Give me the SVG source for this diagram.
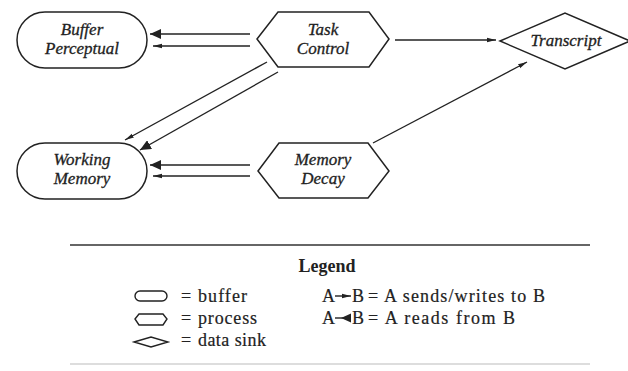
<svg xmlns="http://www.w3.org/2000/svg" width="628" height="371" viewBox="0 0 628 371">
<style>
.shape{fill:#fff;stroke:#222;stroke-width:1.5}
.lbl{font-family:"Liberation Serif",serif;font-style:italic;font-size:17px;fill:#222;stroke:#222;stroke-width:0.3;text-anchor:middle}
.conn{stroke:#222;stroke-width:1.4;fill:none}
.leg{font-family:"Liberation Serif",serif;font-size:18px;fill:#222;stroke:#222;stroke-width:0.2}
.icon{fill:#fff;stroke:#222;stroke-width:1.4}
</style>
<defs>
<marker id="send" markerUnits="userSpaceOnUse" markerWidth="9" markerHeight="6" refX="9" refY="3" orient="auto"><path d="M0,0.8 L9,3 L0,5.2 z" fill="#222"/></marker>
<marker id="read" markerUnits="userSpaceOnUse" markerWidth="11" markerHeight="10" refX="11" refY="5" orient="auto"><path d="M0,0 L11,5 L0,10 z" fill="#222"/></marker>
</defs>
<rect width="628" height="371" fill="#fff"/>
<g id="buffer-perceptual">
<rect class="shape" x="17" y="12" width="130" height="56" rx="28"/>
<text class="lbl" x="82" y="35">Buffer</text>
<text class="lbl" x="82" y="54">Perceptual</text>
</g>
<g id="task-control">
<polygon class="shape" points="257,39 278,12 369,12 389,39 369,67 278,67"/>
<text class="lbl" x="323" y="35">Task</text>
<text class="lbl" x="323" y="54">Control</text>
</g>
<g id="transcript">
<polygon class="shape" points="500,41 565,13 630,41 565,69"/>
<text class="lbl" x="566" y="46">Transcript</text>
</g>
<g id="working-memory">
<rect class="shape" x="17" y="143" width="130" height="56" rx="28"/>
<text class="lbl" x="82" y="165">Working</text>
<text class="lbl" x="82" y="184">Memory</text>
</g>
<g id="memory-decay">
<polygon class="shape" points="258,171 279,143 368,143 389,171 368,198 279,198"/>
<text class="lbl" x="323" y="165">Memory</text>
<text class="lbl" x="323" y="184">Decay</text>
</g>
<g id="connectors">
<line class="conn" x1="250" y1="34" x2="150" y2="34" marker-end="url(#read)"/>
<line class="conn" x1="250" y1="46" x2="153" y2="46" marker-end="url(#send)"/>
<line class="conn" x1="395" y1="40" x2="496" y2="40" marker-end="url(#send)"/>
<line class="conn" x1="267" y1="62" x2="125" y2="140" marker-end="url(#send)"/>
<line class="conn" x1="278" y1="72" x2="140" y2="150" marker-end="url(#read)"/>
<line class="conn" x1="250" y1="165" x2="150" y2="165" marker-end="url(#read)"/>
<line class="conn" x1="250" y1="176" x2="153" y2="176" marker-end="url(#send)"/>
<line class="conn" x1="373" y1="143" x2="527" y2="62" marker-end="url(#send)"/>
</g>
<g id="legend">
<line x1="70" y1="245" x2="590" y2="245" stroke="#333" stroke-width="1.5"/>
<line x1="70" y1="364" x2="590" y2="364" stroke="#bbb" stroke-width="1"/>
<text x="327" y="272" font-family="Liberation Serif, serif" font-size="18" font-weight="bold" fill="#222" text-anchor="middle">Legend</text>
<rect class="icon" x="135" y="291" width="32" height="10" rx="5"/>
<polygon class="icon" points="135,319 139,314 163,314 167,319 163,325 139,325"/>
<polygon class="icon" points="134,342 151,337 168,342 151,347"/>
<text class="leg" x="181" y="302">=</text>
<text class="leg" x="198" y="302" textLength="49" lengthAdjust="spacing">buffer</text>
<text class="leg" x="181" y="324">=</text>
<text class="leg" x="198" y="324" textLength="59" lengthAdjust="spacing">process</text>
<text class="leg" x="181" y="346">=</text>
<text class="leg" x="198" y="346" textLength="68" lengthAdjust="spacing">data sink</text>
<text class="leg" x="322" y="302">A</text>
<line class="conn" x1="335" y1="296" x2="351" y2="296" marker-end="url(#send)"/>
<text class="leg" x="352" y="302">B</text>
<text class="leg" x="368" y="302" textLength="177" lengthAdjust="spacing">= A sends/writes to B</text>
<text class="leg" x="322" y="324">A</text>
<line class="conn" x1="335" y1="318" x2="351" y2="318"/>
<path d="M341,318 L351,313.5 L351,322.5 z" fill="#222"/>
<text class="leg" x="352" y="324">B</text>
<text class="leg" x="368" y="324" textLength="147" lengthAdjust="spacing">= A reads from B</text>
</g>
</svg>
